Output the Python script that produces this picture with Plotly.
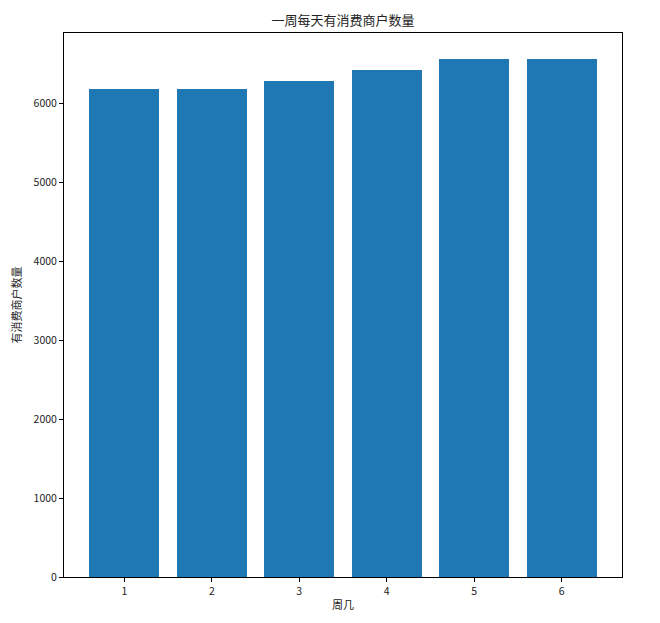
"""Bar chart: merchants with spending on each weekday."""

import plotly.graph_objects as go

# data
weekdays = [1, 2, 3, 4, 5, 6]
merchant_counts = [6184, 6184, 6278, 6421, 6564, 6564]
y_ticks = [0, 1000, 2000, 3000, 4000, 5000, 6000]

FONT = "Noto Sans CJK SC, SimHei, sans-serif"
BAR_COLOR = "#1f77b4"

# the page puts the figure 8px in from the top-left corner
LEFT, RIGHT, TOP, BOTTOM = 56, 46, 25, 54
W, H = 660, 623

fig = go.Figure()
fig.add_trace(
    go.Bar(
        x=weekdays,
        y=merchant_counts,
        width=0.8,
        marker=dict(color=BAR_COLOR, line=dict(width=0)),
        hovertemplate="周%{x}: %{y}<extra></extra>",
    )
)

axis_common = dict(
    showline=True,
    linecolor="black",
    linewidth=1,
    mirror=True,
    ticks="outside",
    ticklen=4,
    tickwidth=1,
    tickcolor="black",
    showgrid=False,
    zeroline=False,
    automargin=False,
    tickfont=dict(family=FONT, size=10.5, color="#222"),
)

fig.update_layout(
    width=W,
    height=H,
    margin=dict(l=LEFT, r=RIGHT, t=TOP, b=BOTTOM),
    paper_bgcolor="white",
    plot_bgcolor="white",
    font=dict(family=FONT, color="#222"),
    title=dict(
        text="一周每天有消费商户数量",
        x=(LEFT + W - RIGHT) / 2 / W,
        xanchor="center",
        y=1 - 12 / H,
        yanchor="middle",
        font=dict(family=FONT, size=13, color="#222"),
    ),
    xaxis=dict(
        axis_common,
        range=[0.31, 6.69],
        tickmode="array",
        tickvals=weekdays,
        ticktext=[str(d) for d in weekdays],
        title=dict(text="周几", font=dict(family=FONT, size=11), standoff=4),
    ),
    yaxis=dict(
        axis_common,
        range=[0, max(merchant_counts) * 1.05],
        tickmode="array",
        tickvals=y_ticks,
        ticktext=[str(v) for v in y_ticks],
        title=dict(text="有消费商户数量", font=dict(family=FONT, size=11), standoff=12),
    ),
    showlegend=False,
    bargap=0,
)

fig.write_html("out.html")
